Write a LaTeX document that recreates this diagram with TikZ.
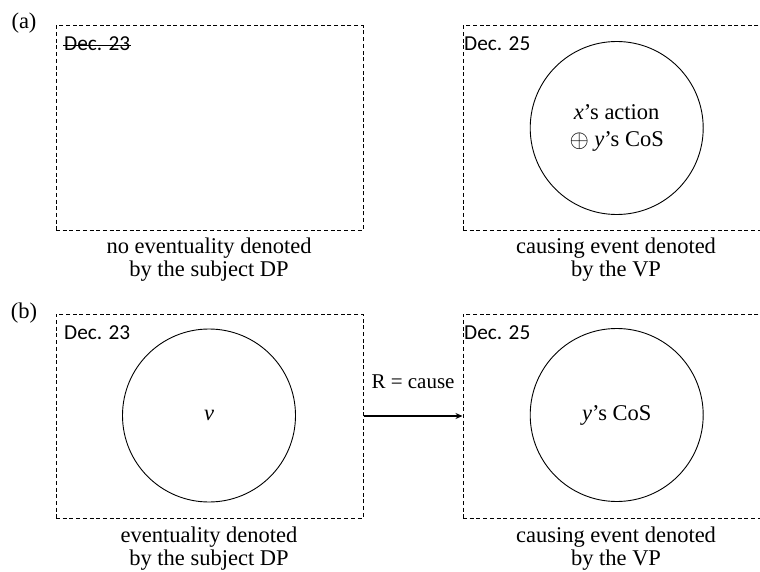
\documentclass[tikz,border=0pt]{standalone}
\usepackage{fontspec}
\setmainfont{Liberation Serif}
\newfontfamily\datefont{Carlito}
\usetikzlibrary{arrows.meta}
\tikzset{
  frame/.style={draw, dash pattern=on 4pt off 2.7pt, line width=1pt,
    minimum width=307pt, minimum height=204pt, inner sep=0pt},
  event/.style={draw, circle, line width=0.9pt, minimum size=173pt,
    inner sep=0pt, font=\fontsize{22.5}{27}\selectfont, align=center},
  caption/.style={font=\fontsize{22.5}{23}\selectfont, align=center, inner sep=0pt},
  relation/.style={font=\fontsize{21}{23}\selectfont, inner sep=0pt},
  datelbl/.style={font=\datefont\fontsize{21.3}{24}\selectfont, anchor=west, inner sep=0pt},
  panel/.style={font=\fontsize{22.5}{23}\selectfont, inner sep=0pt}
}
% direct-sum sign sized to the surrounding text
\newcommand{\dsum}{\raisebox{-1.2pt}{\fontsize{29}{27}\selectfont$\oplus$}}
\begin{document}
\begin{tikzpicture}[x=1pt, y=-1pt]
\useasboundingbox (0,0) rectangle (760,572);
% panel (a)
\node[panel] (pa) at (24,23) {(a)};
\node[frame] (a1) at (209.5,128) {};
\node[frame] (a2) at (616.5,128) {};
\node[datelbl] (d1) at (64,44) {Dec. 23};
\draw[line width=1pt] ([xshift=-1pt,yshift=-2pt]d1.west) -- ([xshift=1pt,yshift=-2pt]d1.east);
\node[datelbl] (d2) at (464,44) {Dec. 25};
\node[event] (ca) at (616.7,128) {\textit{x}'s action\\\dsum\ \textit{y}'s CoS};
\node[caption] (t1) at (209,259.5) {no eventuality denoted\\by the subject DP};
\node[caption] (t2) at (616,259.5) {causing event denoted\\by the VP};
% panel (b)
\node[panel] (pb) at (24,313) {(b)};
\node[frame] (b1) at (209.5,416) {};
\node[frame] (b2) at (616.5,416) {};
\node[datelbl] (d3) at (64,333) {Dec. 23};
\node[datelbl] (d4) at (464,333) {Dec. 25};
\node[event] (cv) at (209,415.5) {\textit{v}};
\node[event] (cy) at (616.7,415) {\textit{y}'s CoS};
\draw[line width=1.7pt, -{Stealth[length=7pt,width=6pt]}] (b1.east) -- node[above=26pt, relation] (rl) {R = cause} (b2.west);
\node[caption] (t3) at (209,548.5) {eventuality denoted\\by the subject DP};
\node[caption] (t4) at (616,548.5) {causing event denoted\\by the VP};
\end{tikzpicture}
\end{document}
